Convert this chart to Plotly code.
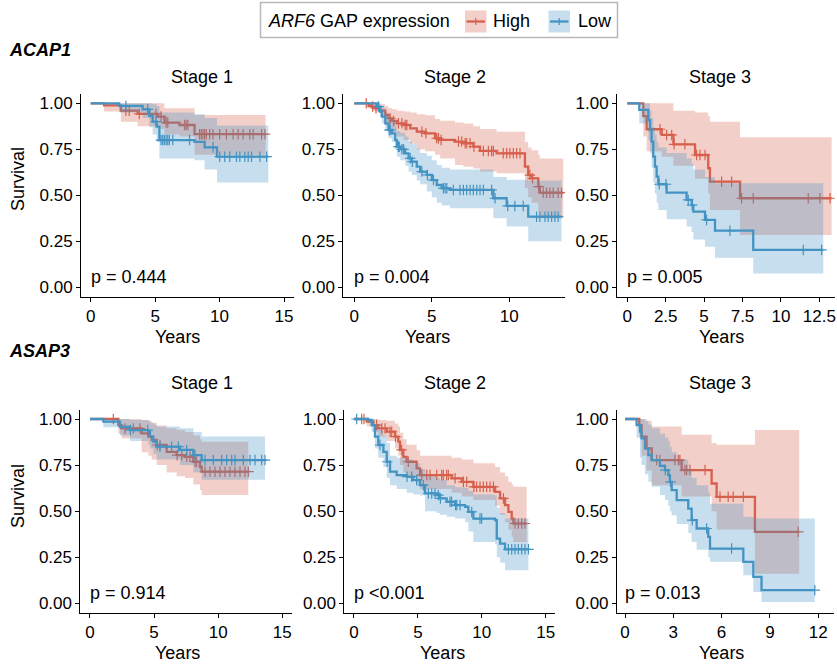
import numpy as np
import plotly.graph_objects as go

# ---------------- Kaplan-Meier estimates (time in years) ----------------
# ACAP1, Stage 1
acap1_s1_high_time = [0, 1.04, 2.34, 3.64, 5.2, 5.72, 6.89, 8.06]
acap1_s1_high_surv = [1, 0.989, 0.96, 0.942, 0.928, 0.895, 0.882, 0.832]
acap1_s1_high_lower = [1, 0.955, 0.9, 0.875, 0.86, 0.83, 0.82, 0.72]
acap1_s1_high_upper = [1, 1, 1, 1, 1, 0.973, 0.973, 0.937]
acap1_s1_high_end = 13.57
acap1_s1_high_censor = [2.73, 2.99, 3.77, 5.07, 5.46, 5.85, 5.98, 7.28, 7.41, 7.54, 8.45, 8.58, 8.71,
                        8.84, 8.97, 9.23, 9.49, 10.01, 10.53, 11.05, 11.44, 11.83, 12.35, 12.61, 13.26, 13.52]

acap1_s1_low_time = [0, 2.21, 4.03, 4.55, 4.81, 5.12, 5.33, 8.06, 8.84, 9.8]
acap1_s1_low_surv = [1, 0.986, 0.967, 0.931, 0.9, 0.873, 0.80, 0.79, 0.761, 0.71]
acap1_s1_low_lower = [1, 0.95, 0.92, 0.87, 0.83, 0.79, 0.70, 0.69, 0.64, 0.57]
acap1_s1_low_upper = [1, 1, 1, 1, 0.995, 0.985, 0.95, 0.94, 0.92, 0.88]
acap1_s1_low_end = 13.78
acap1_s1_low_censor = [2.73, 4.42, 5.07, 5.46, 5.59, 5.72, 5.85, 5.98, 6.11, 6.37, 7.67, 9.49, 10.01, 10.4,
                       10.79, 11.31, 11.57, 11.96, 12.22, 12.48, 13.13, 13.65]

# ACAP1, Stage 2
acap1_s2_high_time = [0, 0.92, 1.14, 1.35, 1.67, 2.0, 2.21, 2.42, 2.75, 3.18, 3.61, 4.03, 4.57, 5.21, 5.54,
                      6.5, 7.04, 7.68, 8.11, 9.18, 11.01, 11.22, 11.44, 11.87, 11.97]
acap1_s2_high_surv = [1, 0.991, 0.982, 0.973, 0.96, 0.937, 0.918, 0.904, 0.891, 0.882, 0.864, 0.846, 0.837,
                      0.81, 0.801, 0.792, 0.783, 0.764, 0.741, 0.728, 0.656, 0.61, 0.592, 0.547, 0.514]
acap1_s2_high_lower = [1, 0.975, 0.96, 0.95, 0.93, 0.88, 0.86, 0.845, 0.82, 0.80, 0.78, 0.75, 0.74, 0.72,
                       0.70, 0.665, 0.655, 0.645, 0.63, 0.62, 0.54, 0.49, 0.46, 0.41, 0.375]
acap1_s2_high_upper = [1, 1, 1, 1, 0.995, 0.985, 0.975, 0.968, 0.96, 0.955, 0.95, 0.94, 0.935, 0.915, 0.905,
                       0.895, 0.89, 0.875, 0.86, 0.845, 0.79, 0.76, 0.745, 0.72, 0.70]
acap1_s2_high_end = 13.48
acap1_s2_high_censor = [0.77, 1.18, 1.4, 2.32, 2.53, 2.85, 3.07, 3.28, 3.39, 4.36, 4.62, 5.32, 5.43, 5.6,
                        6.72, 6.93, 7.15, 7.25, 7.47, 7.72, 8.33, 8.65, 8.86, 8.97, 9.61, 9.83, 10.04,
                        10.26, 10.47, 10.69, 11.33, 11.5, 11.9, 12.19, 12.4, 12.62, 12.83, 13.15, 13.37]

acap1_s2_low_time = [0, 1.46, 1.67, 1.78, 2.0, 2.21, 2.42, 2.64, 2.75, 2.96, 3.28, 3.5, 3.71, 4.03, 4.25,
                     4.68, 5.0, 5.32, 5.64, 6.18, 8.97, 9.83, 11.22]
acap1_s2_low_surv = [1, 0.982, 0.955, 0.928, 0.891, 0.855, 0.837, 0.80, 0.764, 0.75, 0.728, 0.701, 0.683,
                     0.656, 0.629, 0.611, 0.583, 0.556, 0.538, 0.529, 0.484, 0.442, 0.384]
acap1_s2_low_lower = [1, 0.96, 0.925, 0.89, 0.85, 0.81, 0.79, 0.75, 0.71, 0.69, 0.66, 0.63, 0.61, 0.58,
                      0.56, 0.52, 0.49, 0.46, 0.445, 0.43, 0.375, 0.33, 0.25]
acap1_s2_low_upper = [1, 1, 0.99, 0.975, 0.95, 0.925, 0.91, 0.88, 0.85, 0.84, 0.82, 0.795, 0.78, 0.755,
                      0.73, 0.715, 0.69, 0.665, 0.65, 0.64, 0.60, 0.585, 0.58]
acap1_s2_low_end = 13.37
acap1_s2_low_censor = [1.57, 2.25, 2.32, 2.85, 2.9, 3.07, 3.18, 3.61, 3.75, 4.36, 4.72, 5.11, 5.75, 5.86,
                       5.97, 6.39, 6.82, 7.04, 7.25, 7.47, 7.68, 7.9, 8.11, 8.33, 8.86, 9.08, 9.9, 10.36,
                       10.9, 11.76, 11.97, 12.3, 12.51, 12.73, 12.94, 13.15]

# ACAP1, Stage 3
acap1_s3_high_time = [0, 1.04, 1.26, 2.24, 3.0, 4.41, 5.27, 5.38, 7.34]
acap1_s3_high_surv = [1, 0.93, 0.859, 0.828, 0.777, 0.719, 0.647, 0.574, 0.484]
acap1_s3_high_lower = [1, 0.82, 0.74, 0.71, 0.66, 0.59, 0.51, 0.42, 0.284]
acap1_s3_high_upper = [1, 1, 1, 1, 0.96, 0.95, 0.93, 0.90, 0.815]
acap1_s3_high_end = 13.3
acap1_s3_high_censor = [2.13, 2.56, 2.89, 3.05, 3.75, 4.51, 4.73, 5.06, 6.14, 6.79, 7.44, 8.2, 11.78,
                        12.54, 13.2]

acap1_s3_low_time = [0, 0.78, 1.37, 1.48, 1.58, 1.69, 1.8, 1.91, 2.02, 2.56, 3.86, 4.19, 4.3, 5.06, 5.71, 8.2]
acap1_s3_low_surv = [1, 0.964, 0.909, 0.855, 0.792, 0.71, 0.656, 0.601, 0.56, 0.514, 0.475, 0.447, 0.411,
                     0.366, 0.308, 0.203]
acap1_s3_low_lower = [1, 0.89, 0.8, 0.73, 0.65, 0.57, 0.51, 0.46, 0.42, 0.37, 0.33, 0.30, 0.26, 0.22,
                      0.16, 0.075]
acap1_s3_low_upper = [1, 1, 1, 0.96, 0.92, 0.87, 0.83, 0.79, 0.76, 0.73, 0.70, 0.67, 0.64, 0.60, 0.565, 0.565]
acap1_s3_low_end = 12.76
acap1_s3_low_censor = [2.08, 2.52, 3.97, 4.22, 5.16, 6.68, 11.46, 12.65]

# ASAP3, Stage 1
asap3_s1_high_time = [0, 2.21, 2.47, 4.03, 4.55, 4.81, 5.2, 5.98, 6.76, 7.41, 8.06, 8.58, 8.71]
asap3_s1_high_surv = [1, 0.967, 0.949, 0.922, 0.904, 0.886, 0.859, 0.822, 0.804, 0.795, 0.768, 0.741, 0.714]
asap3_s1_high_lower = [1, 0.92, 0.895, 0.82, 0.80, 0.78, 0.75, 0.71, 0.69, 0.68, 0.645, 0.615, 0.587]
asap3_s1_high_upper = [1, 1, 1, 0.995, 0.99, 0.98, 0.965, 0.95, 0.94, 0.93, 0.91, 0.89, 0.877]
asap3_s1_high_end = 12.35
asap3_s1_high_censor = [1.82, 2.73, 3.38, 3.9, 5.25, 5.46, 6.8, 7.15, 7.54, 7.8, 8.19, 8.32, 8.97, 9.36,
                        9.75, 10.14, 10.53, 10.92, 11.31, 11.7, 12.09, 12.35]

asap3_s1_low_time = [0, 1.04, 2.34, 3.12, 4.55, 4.68, 4.94, 5.2, 7.02, 8.06, 8.71]
asap3_s1_low_surv = [1, 0.986, 0.958, 0.94, 0.928, 0.904, 0.877, 0.85, 0.832, 0.804, 0.777]
asap3_s1_low_lower = [1, 0.955, 0.91, 0.88, 0.86, 0.84, 0.81, 0.78, 0.75, 0.71, 0.67]
asap3_s1_low_upper = [1, 1, 1, 0.995, 0.99, 0.98, 0.97, 0.96, 0.95, 0.93, 0.905]
asap3_s1_low_end = 13.65
asap3_s1_low_censor = [3.15, 4.5, 5.46, 6.37, 6.89, 7.54, 8.19, 8.97, 9.62, 10.27, 10.66, 11.05, 11.31,
                       11.96, 12.48, 12.87, 13.39, 13.65]

# ASAP3, Stage 2
asap3_s2_high_time = [0, 0.99, 1.51, 1.9, 2.56, 3.21, 3.47, 3.6, 3.86, 4.12, 4.9, 5.17, 7.64, 8.43, 9.34,
                      11.04, 11.43, 11.82, 12.08, 12.34, 12.47]
asap3_s2_high_surv = [1, 0.986, 0.967, 0.949, 0.931, 0.904, 0.877, 0.832, 0.795, 0.768, 0.732, 0.696, 0.678,
                      0.659, 0.632, 0.605, 0.569, 0.533, 0.496, 0.46, 0.433]
asap3_s2_high_lower = [1, 0.96, 0.93, 0.905, 0.88, 0.84, 0.80, 0.75, 0.71, 0.68, 0.65, 0.62, 0.60, 0.58,
                       0.56, 0.53, 0.48, 0.44, 0.40, 0.36, 0.333]
asap3_s2_high_upper = [1, 1, 1, 0.995, 0.99, 0.975, 0.96, 0.925, 0.89, 0.86, 0.83, 0.80, 0.79, 0.78, 0.76,
                       0.74, 0.71, 0.69, 0.66, 0.645, 0.632]
asap3_s2_high_end = 13.51
asap3_s2_high_censor = [0.6, 0.78, 1.77, 2.17, 2.43, 2.82, 2.95, 3.25, 3.73, 4.25, 5.3, 5.69, 5.95, 6.47,
                        6.86, 6.99, 7.25, 7.38, 7.91, 8.56, 8.82, 9.38, 9.6, 9.86, 10.12, 10.38, 10.64,
                        10.91, 11.69, 12.6, 12.86, 13.12, 13.38]

asap3_s2_low_time = [0, 1.12, 1.38, 1.64, 1.9, 2.3, 2.56, 2.82, 3.34, 4.12, 4.64, 5.17, 5.56, 6.47, 6.73,
                     7.25, 7.91, 8.69, 8.95, 9.34, 11.04, 11.17, 11.43, 11.82]
asap3_s2_low_surv = [1, 0.995, 0.967, 0.904, 0.859, 0.822, 0.768, 0.714, 0.696, 0.687, 0.668, 0.641, 0.596,
                     0.587, 0.569, 0.551, 0.533, 0.524, 0.496, 0.46, 0.451, 0.351, 0.324, 0.293]
asap3_s2_low_lower = [1, 0.98, 0.93, 0.84, 0.79, 0.74, 0.68, 0.64, 0.62, 0.60, 0.59, 0.585, 0.50, 0.49,
                      0.48, 0.47, 0.46, 0.44, 0.39, 0.333, 0.32, 0.25, 0.22, 0.179]
asap3_s2_low_upper = [1, 1, 1, 0.97, 0.94, 0.91, 0.87, 0.80, 0.79, 0.78, 0.76, 0.73, 0.69, 0.68, 0.67,
                      0.64, 0.63, 0.625, 0.61, 0.59, 0.585, 0.52, 0.49, 0.46]
asap3_s2_low_end = 13.65
asap3_s2_low_censor = [0.21, 2.03, 2.6, 4.15, 4.51, 4.9, 5.43, 5.82, 6.08, 6.34, 6.6, 6.76, 7.51, 7.64,
                       7.95, 8.04, 8.3, 9.21, 9.86, 9.99, 12.08, 12.34, 12.6, 12.86, 13.12, 13.38, 13.65]

# ASAP3, Stage 3
asap3_s3_high_time = [0, 0.89, 1.03, 1.34, 1.66, 3.52, 5.38, 5.69, 8.07]
asap3_s3_high_surv = [1, 0.967, 0.904, 0.841, 0.777, 0.723, 0.65, 0.578, 0.388]
asap3_s3_high_lower = [1, 0.9, 0.8, 0.72, 0.64, 0.58, 0.50, 0.40, 0.16]
asap3_s3_high_upper = [1, 1, 1, 0.99, 0.96, 0.915, 0.87, 0.86, 0.94]
asap3_s3_high_end = 10.82
asap3_s3_high_censor = [1.97, 2.17, 3.1, 3.31, 3.41, 3.72, 3.83, 4.03, 4.97, 5.9, 6.41, 6.72, 7.35, 10.76]

asap3_s3_low_time = [0, 0.72, 0.93, 1.03, 1.24, 1.45, 1.66, 2.17, 2.48, 2.69, 2.79, 2.9, 3.21, 3.93, 4.14,
                     4.45, 5.17, 5.28, 7.35, 7.97, 8.48]
asap3_s3_low_surv = [1, 0.967, 0.931, 0.895, 0.841, 0.804, 0.777, 0.746, 0.723, 0.696, 0.659, 0.614, 0.56,
                     0.514, 0.451, 0.406, 0.36, 0.297, 0.225, 0.143, 0.071]
asap3_s3_low_lower = [1, 0.9, 0.79, 0.75, 0.70, 0.66, 0.632, 0.587, 0.56, 0.53, 0.50, 0.478, 0.43, 0.38,
                      0.333, 0.29, 0.25, 0.225, 0.152, 0.062, 0.007]
asap3_s3_low_upper = [1, 1, 1, 1, 0.99, 0.97, 0.95, 0.92, 0.9, 0.88, 0.85, 0.82, 0.78, 0.73, 0.68, 0.64,
                      0.60, 0.54, 0.47, 0.46, 0.46]
asap3_s3_low_end = 11.79
asap3_s3_low_censor = [2.5, 2.82, 4.18, 5.07, 6.62, 11.79]

# Log-rank p-values and labels
pvalue_labels = ["p = 0.444", "p = 0.004", "p = 0.005", "p = 0.914", "p <0.001", "p = 0.013"]
stage_labels = ["Stage 1", "Stage 2", "Stage 3"]
gene_labels = ["ACAP1", "ASAP3"]
group_labels = ["High", "Low"]
y_tick_values = [0, 0.25, 0.5, 0.75, 1.0]
x_ticks_acap1 = [[0, 5, 10, 15], [0, 5, 10], [0, 2.5, 5, 7.5, 10, 12.5]]
x_ticks_asap3 = [[0, 5, 10, 15], [0, 5, 10, 15], [0, 3, 6, 9, 12]]

# ---------------- styling ----------------
W, H = 837, 666
FONT = "Arial, 'Liberation Sans', Helvetica, sans-serif"
RED = "#D6604D"
BLUE = "#4393C3"
RED_FILL = "rgba(214,96,77,0.3)"
BLUE_FILL = "rgba(67,147,195,0.3)"


def px(x):
    return x / W


def py(y):
    return 1 - y / H


# panel geometry: pixel of t=0, pixels per year, x range, row
panel_geom = [
    dict(x0=90.7, ppu=12.887, xr=(-0.75, 15.75), row=0),
    dict(x0=354.3, ppu=15.5, xr=(-0.71, 13.6), row=0),
    dict(x0=627.3, ppu=15.36, xr=(-0.67, 13.5), row=0),
    dict(x0=90.0, ppu=12.82, xr=(-0.75, 15.75), row=1),
    dict(x0=354.0, ppu=12.78, xr=(-0.75, 15.75), row=1),
    dict(x0=625.0, ppu=16.1, xr=(-0.5, 13.0), row=1),
]
# row geometry: pixel of survival 1.0 and 0.0
row_geom = [(103.3, 287.3), (419.0, 603.3)]

panels = [
    ((acap1_s1_high_time, acap1_s1_high_surv, acap1_s1_high_lower, acap1_s1_high_upper, acap1_s1_high_end, acap1_s1_high_censor),
     (acap1_s1_low_time, acap1_s1_low_surv, acap1_s1_low_lower, acap1_s1_low_upper, acap1_s1_low_end, acap1_s1_low_censor)),
    ((acap1_s2_high_time, acap1_s2_high_surv, acap1_s2_high_lower, acap1_s2_high_upper, acap1_s2_high_end, acap1_s2_high_censor),
     (acap1_s2_low_time, acap1_s2_low_surv, acap1_s2_low_lower, acap1_s2_low_upper, acap1_s2_low_end, acap1_s2_low_censor)),
    ((acap1_s3_high_time, acap1_s3_high_surv, acap1_s3_high_lower, acap1_s3_high_upper, acap1_s3_high_end, acap1_s3_high_censor),
     (acap1_s3_low_time, acap1_s3_low_surv, acap1_s3_low_lower, acap1_s3_low_upper, acap1_s3_low_end, acap1_s3_low_censor)),
    ((asap3_s1_high_time, asap3_s1_high_surv, asap3_s1_high_lower, asap3_s1_high_upper, asap3_s1_high_end, asap3_s1_high_censor),
     (asap3_s1_low_time, asap3_s1_low_surv, asap3_s1_low_lower, asap3_s1_low_upper, asap3_s1_low_end, asap3_s1_low_censor)),
    ((asap3_s2_high_time, asap3_s2_high_surv, asap3_s2_high_lower, asap3_s2_high_upper, asap3_s2_high_end, asap3_s2_high_censor),
     (asap3_s2_low_time, asap3_s2_low_surv, asap3_s2_low_lower, asap3_s2_low_upper, asap3_s2_low_end, asap3_s2_low_censor)),
    ((asap3_s3_high_time, asap3_s3_high_surv, asap3_s3_high_lower, asap3_s3_high_upper, asap3_s3_high_end, asap3_s3_high_censor),
     (asap3_s3_low_time, asap3_s3_low_surv, asap3_s3_low_lower, asap3_s3_low_upper, asap3_s3_low_end, asap3_s3_low_censor)),
]
x_ticks = x_ticks_acap1 + x_ticks_asap3

fig = go.Figure()


def add_group(k, data, color, fill, name):
    t, s, lo, hi, end, cens = data
    xa, ya = ("x", "y") if k == 0 else (f"x{k+1}", f"y{k+1}")
    xs = list(t) + [end]
    common = dict(xaxis=xa, yaxis=ya, hoverinfo="skip", showlegend=False)
    # confidence band
    fig.add_trace(go.Scatter(x=xs, y=list(hi) + [hi[-1]], mode="lines",
                             line=dict(width=0, shape="hv"), **common))
    fig.add_trace(go.Scatter(x=xs, y=list(lo) + [lo[-1]], mode="lines", fill="tonexty",
                             fillcolor=fill, line=dict(width=0, shape="hv"), **common))
    # survival step curve
    fig.add_trace(go.Scatter(x=xs, y=list(s) + [s[-1]], mode="lines", name=name,
                             line=dict(color=color, width=2.3, shape="hv"), **common))
    # censoring ticks sit on the curve
    idx = np.searchsorted(np.asarray(t), np.asarray(cens), side="right") - 1
    fig.add_trace(go.Scatter(x=cens, y=np.asarray(s)[idx], mode="markers",
                             marker=dict(symbol="cross-thin", size=7.5, color=color,
                                         line=dict(color=color, width=1.2)), **common))


axis_common = dict(showline=True, linecolor="black", linewidth=1, ticks="outside", ticklen=4,
                   tickwidth=1, tickcolor="black", showgrid=False, zeroline=False,
                   tickfont=dict(family=FONT, size=17, color="black"), fixedrange=True)

layout_axes = {}
annotations = []
for k, (high, low) in enumerate(panels):
    add_group(k, high, RED, RED_FILL, group_labels[0])
    add_group(k, low, BLUE, BLUE_FILL, group_labels[1])

    g = panel_geom[k]
    top1, bot0 = row_geom[g["row"]]
    yppu = bot0 - top1
    xdom = [px(g["x0"] + g["xr"][0] * g["ppu"]), px(g["x0"] + g["xr"][1] * g["ppu"])]
    ydom = [py(bot0 + 0.05 * yppu), py(top1 - 0.05 * yppu)]
    sx = "" if k == 0 else str(k + 1)
    layout_axes[f"xaxis{sx}"] = dict(domain=xdom, range=list(g["xr"]), anchor=f"y{sx}",
                                     tickvals=x_ticks[k], ticktext=[f"{v:g}" for v in x_ticks[k]],
                                     **axis_common)
    layout_axes[f"yaxis{sx}"] = dict(domain=ydom, range=[-0.05, 1.05], anchor=f"x{sx}",
                                     tickvals=y_tick_values, ticktext=[f"{v:.2f}" for v in y_tick_values],
                                     **axis_common)
    annotations.append(dict(xref=f"x{sx}", yref=f"y{sx}", x=0, y=0.055, xanchor="left",
                            yanchor="middle", xshift=-2, text=pvalue_labels[k], showarrow=False,
                            font=dict(family=FONT, size=18, color="black")))

# panel titles and axis titles
stage_cx = [202, 455, 720]
years_cx = [[177, 427, 721], [177, 443, 721]]
for r, (title_y, years_y, surv_y, gene_y) in enumerate([(77, 336.5, 179, 50), (383, 652.5, 496, 351)]):
    for c in range(3):
        annotations.append(dict(xref="paper", yref="paper", x=px(stage_cx[c]), y=py(title_y),
                                text=stage_labels[c], showarrow=False, xanchor="center", yanchor="middle",
                                font=dict(family=FONT, size=18, color="black")))
        annotations.append(dict(xref="paper", yref="paper", x=px(years_cx[r][c]), y=py(years_y),
                                text="Years", showarrow=False, xanchor="center", yanchor="middle",
                                font=dict(family=FONT, size=18, color="black")))
    annotations.append(dict(xref="paper", yref="paper", x=px(18), y=py(surv_y), text="Survival",
                            textangle=-90, showarrow=False, xanchor="center", yanchor="middle",
                            font=dict(family=FONT, size=18, color="black")))
    annotations.append(dict(xref="paper", yref="paper", x=px(7), y=py(gene_y),
                            text=f"<b><i>{gene_labels[r]}</i></b>", showarrow=False,
                            xanchor="left", yanchor="middle",
                            font=dict(family=FONT, size=18, color="black")))

# legend (drawn as a boxed key above the panels)
shapes = [dict(type="rect", xref="paper", yref="paper", x0=px(260.5), x1=px(617.5), y0=py(37.5),
               y1=py(2.5), line=dict(color="#B8B8B8", width=1.5), fillcolor="white", layer="below")]
annotations.append(dict(xref="paper", yref="paper", x=px(266), y=py(21), xanchor="left",
                        yanchor="middle", text="<i>ARF6</i> GAP expression", showarrow=False,
                        font=dict(family=FONT, size=18, color="black")))
for (kx, lab_x, col, fill, lab) in [(465, 491, RED, RED_FILL, group_labels[0]),
                                     (548.5, 576, BLUE, BLUE_FILL, group_labels[1])]:
    shapes.append(dict(type="rect", xref="paper", yref="paper", x0=px(kx), x1=px(kx + 21.5),
                       y0=py(32.5), y1=py(10.5), fillcolor=fill, line=dict(width=0)))
    shapes.append(dict(type="line", xref="paper", yref="paper", x0=px(kx + 1.5), x1=px(kx + 20),
                       y0=py(21.5), y1=py(21.5), line=dict(color=col, width=2.3)))
    shapes.append(dict(type="line", xref="paper", yref="paper", x0=px(kx + 10.75), x1=px(kx + 10.75),
                       y0=py(18), y1=py(25), line=dict(color=col, width=1.2)))
    annotations.append(dict(xref="paper", yref="paper", x=px(lab_x), y=py(21), xanchor="left",
                            yanchor="middle", text=lab, showarrow=False,
                            font=dict(family=FONT, size=18, color="black")))

fig.update_layout(width=W, height=H, margin=dict(l=0, r=0, t=0, b=0), plot_bgcolor="white",
                  paper_bgcolor="white", showlegend=False, annotations=annotations, shapes=shapes,
                  font=dict(family=FONT, size=18, color="black"), **layout_axes)

fig.write_html("out.html")
